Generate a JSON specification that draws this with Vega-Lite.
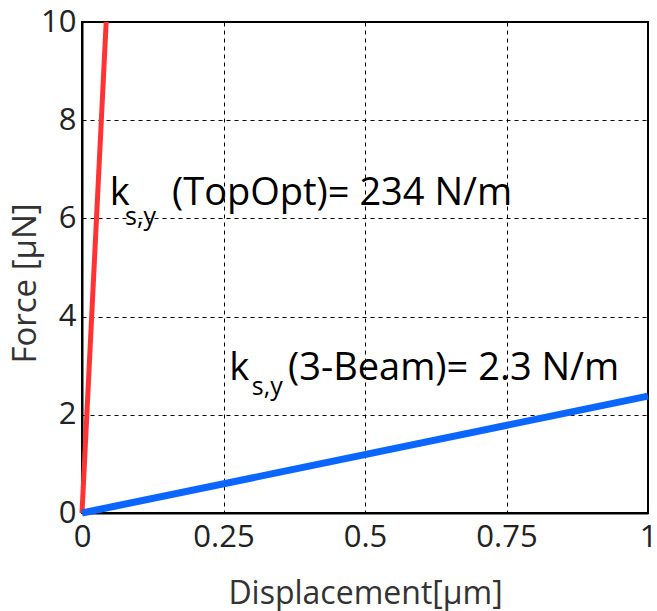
{
  "$schema": "https://vega.github.io/schema/vega-lite/v6.json",
  "autosize": "none",
  "width": 566,
  "height": 491,
  "padding": {"left": 82, "top": 22, "right": 9, "bottom": 98},
  "background": "white",
  "config": {
    "view": {"stroke": "black", "strokeWidth": 2},
    "axis": {
      "grid": true, "gridColor": "black", "gridDash": [4, 4], "gridOpacity": 1, "gridWidth": 1,
      "domainColor": "black", "domainWidth": 2, "ticks": false,
      "labelFont": "Open Sans", "labelFontSize": 31, "labelColor": "#222",
      "titleFont": "Open Sans", "titleFontSize": 32, "titleColor": "#333", "titleFontWeight": "normal",
      "labelFlush": false, "labelOverlap": false, "labelBound": false
    }
  },
  "datasets": {
    "lines": [
      {"series": "TopOpt", "x": 0, "y": 0},
      {"series": "TopOpt", "x": 0.0427, "y": 10},
      {"series": "3-Beam", "x": 0, "y": 0},
      {"series": "3-Beam", "x": 1, "y": 2.38}
    ],
    "labels": [
      {"part": "k", "label": "k", "x": 0.049, "y": 6.27},
      {"part": "sub", "label": "s,y", "x": 0.076, "y": 5.87},
      {"part": "main", "label": "(TopOpt)= 234 N/m", "x": 0.159, "y": 6.27},
      {"part": "k", "label": "k", "x": 0.26, "y": 2.71},
      {"part": "sub", "label": "s,y", "x": 0.3, "y": 2.4},
      {"part": "main", "label": "(3-Beam)= 2.3 N/m", "x": 0.364, "y": 2.71}
    ]
  },
  "layer": [
    {
      "data": {"name": "lines"},
      "mark": {"type": "line", "strokeCap": "butt"},
      "encoding": {
        "x": {"field": "x", "type": "quantitative", "scale": {"domain": [0, 1], "nice": false},
              "axis": {"values": [0, 0.25, 0.5, 0.75, 1], "format": "~g", "title": "Displacement[μm]", "labelPadding": 9, "titlePadding": 26}},
        "y": {"field": "y", "type": "quantitative", "scale": {"domain": [0, 10], "nice": false},
              "axis": {"values": [0, 2, 4, 6, 8, 10], "title": "Force [μN]", "titleFontSize": 33, "titleY": 261, "labelPadding": 6, "titlePadding": -2}},
        "color": {"field": "series", "type": "nominal", "scale": {"domain": ["TopOpt", "3-Beam"], "range": ["#ff3333", "#0a66ff"]}, "legend": null},
        "strokeWidth": {"field": "series", "type": "nominal", "scale": {"domain": ["TopOpt", "3-Beam"], "range": [5, 7]}, "legend": null}
      }
    },
    {
      "data": {"name": "labels"},
      "transform": [{"filter": "datum.part !== 'sub'"}],
      "mark": {"type": "text", "align": "left", "baseline": "alphabetic", "font": "Open Sans", "fontSize": 38, "color": "black"},
      "encoding": {
        "x": {"field": "x", "type": "quantitative"},
        "y": {"field": "y", "type": "quantitative"},
        "text": {"field": "label"}
      }
    },
    {
      "data": {"name": "labels"},
      "transform": [{"filter": "datum.part === 'sub'"}],
      "mark": {"type": "text", "align": "left", "baseline": "alphabetic", "font": "Open Sans", "fontSize": 25, "color": "black"},
      "encoding": {
        "x": {"field": "x", "type": "quantitative"},
        "y": {"field": "y", "type": "quantitative"},
        "text": {"field": "label"}
      }
    }
  ]
}
